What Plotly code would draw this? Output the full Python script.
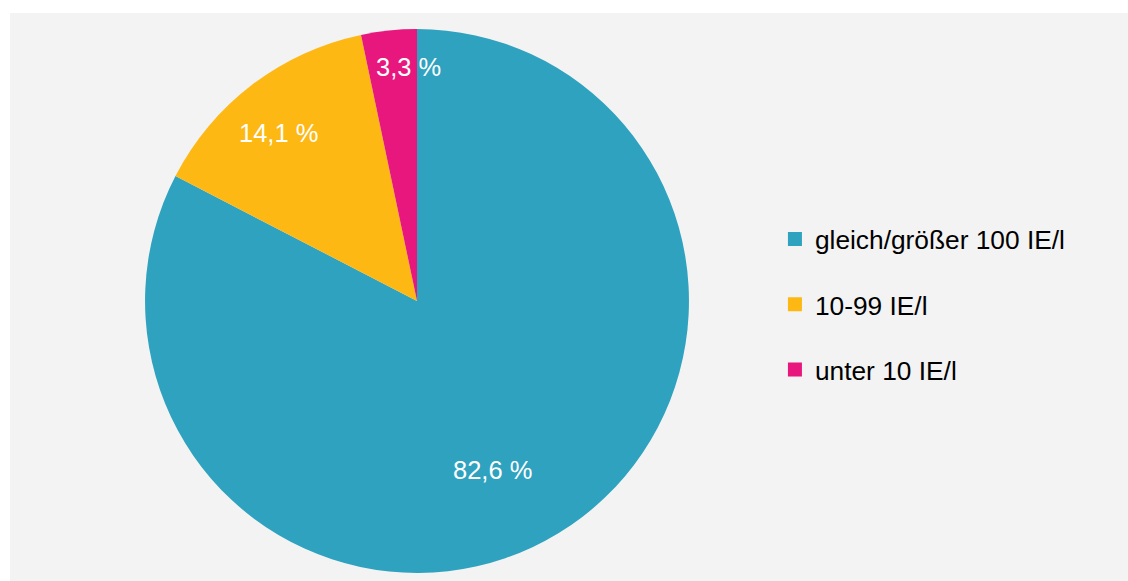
import math
import plotly.graph_objects as go

categories = ["gleich/größer 100 IE/l", "10-99 IE/l", "unter 10 IE/l"]
values = [82.6, 14.1, 3.3]
value_labels = ["82,6 %", "14,1 %", "3,3 %"]
colors = ["#2ea2bf", "#fdb813", "#e8177d"]

# label placement style (fraction of radius, angular shift in degrees)
label_rfrac = [0.68, 0.80, 0.86]
label_shift = [7.3, -2.3, 3.8]

FONT = "Liberation Sans, Arial, sans-serif"
W, H = 1128, 581
ML, MT = 10, 13
PW, PH = W - ML, H - MT
dom_x = [0.1208, 0.6073]
dom_y = [0.0141, 0.9718]
BG = "#f3f3f3"

fig = go.Figure()
fig.add_trace(go.Pie(
    labels=categories,
    values=values,
    textinfo="none",
    marker=dict(colors=colors, line=dict(width=0)),
    sort=False,
    direction="clockwise",
    rotation=0,
    showlegend=False,
    domain=dict(x=dom_x, y=dom_y),
    hovertext=value_labels,
    hoverinfo="label+text",
))

# slice labels positioned from the slice mid-angles
cx = (dom_x[0] + dom_x[1]) / 2
cy = (dom_y[0] + dom_y[1]) / 2
R = min((dom_x[1] - dom_x[0]) * PW, (dom_y[1] - dom_y[0]) * PH) / 2
total = sum(values)
cum = 0.0
for v, lab, rf, sh in zip(values, value_labels, label_rfrac, label_shift):
    mid = (cum + v / 2) / total * 360 + sh
    cum += v
    t = math.radians(mid)
    fig.add_annotation(
        x=cx + rf * R * math.sin(t) / PW,
        y=cy + rf * R * math.cos(t) / PH,
        xref="paper", yref="paper", text=lab, showarrow=False,
        font=dict(family=FONT, size=25.5, color="white"),
        xanchor="center", yanchor="middle",
    )

for i, (cat, col) in enumerate(zip(categories, colors)):
    fig.add_trace(go.Scatter(
        x=[None], y=[None], mode="markers", name=cat,
        marker=dict(symbol="square", size=14, color=col),
        legendgroup=f"g{i}", showlegend=True, hoverinfo="skip",
    ))

# white outer border on left and top
fig.add_shape(type="rect", xref="paper", yref="paper", layer="below",
              x0=-ML / PW - 0.01, x1=0, y0=-0.05, y1=1 + MT / PH + 0.05,
              fillcolor="white", line=dict(width=0))
fig.add_shape(type="rect", xref="paper", yref="paper", layer="below",
              x0=-ML / PW - 0.01, x1=1.05, y0=1, y1=1 + MT / PH + 0.05,
              fillcolor="white", line=dict(width=0))

fig.update_layout(
    width=W, height=H,
    margin=dict(l=ML, t=MT, r=0, b=0),
    paper_bgcolor=BG,
    plot_bgcolor=BG,
    xaxis=dict(visible=False, domain=[0, 1]),
    yaxis=dict(visible=False, domain=[0, 1]),
    legend=dict(
        x=0.6842, xanchor="left", y=0.4868, yanchor="middle",
        font=dict(family=FONT, size=26.3, color="black"),
        tracegroupgap=28, itemsizing="trace",
        bgcolor="rgba(0,0,0,0)",
    ),
    font=dict(family=FONT),
)

fig.write_html(
    "out.html", config={"displayModeBar": False},
    post_script=(
        "document.body.style.margin='0';"
        "document.body.style.overflow='hidden';"
        "document.body.style.background='%s';"
        "document.documentElement.style.background='%s';"
        "document.documentElement.style.overflow='hidden';" % (BG, BG)
    ),
)
